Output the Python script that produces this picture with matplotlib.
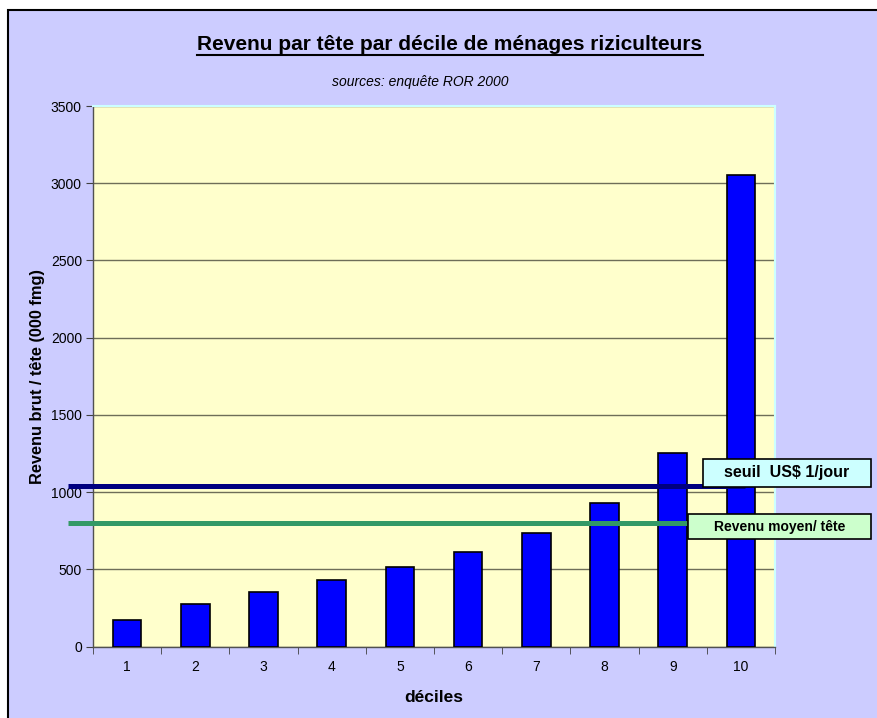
import numpy as np
import matplotlib.pyplot as plt
from matplotlib.patches import Rectangle
from matplotlib.transforms import blended_transform_factory

# revenu brut par tete (000 fmg) par decile
deciles = [1, 2, 3, 4, 5, 6, 7, 8, 9, 10]
revenu = [169, 277, 350, 428, 517, 612, 737, 927, 1252, 3054]
seuil_usd = 1040      # seuil US$ 1/jour
revenu_moyen = 802    # revenu moyen / tete
yticks = [0, 500, 1000, 1500, 2000, 2500, 3000, 3500]

W, H = 877, 718
fig = plt.figure(figsize=(W / 100, H / 100), dpi=100, facecolor='white')
plt.rcParams['font.family'] = ['Liberation Sans', 'DejaVu Sans']

# cadre du graphique (coupe a droite et en bas)
fig.patches.append(Rectangle((8 / W, -0.05), 1.1, (H - 10) / H + 0.05,
                             transform=fig.transFigure, facecolor='#CCCCFF',
                             edgecolor='black', lw=1.5, zorder=-1))

ax = fig.add_axes([93 / W, (H - 646.5) / H, 682 / W, 540.5 / H])
ax.set_facecolor('#FFFFCC')

ax.bar(deciles, revenu, width=0.42, color='#0000FF', edgecolor='black', lw=1.2, zorder=3)

ax.set_xlim(0.5, 10.5)
ax.set_ylim(0, 3500)
ax.set_yticks(yticks)
ax.yaxis.grid(True, color='#6e6e58', lw=1, zorder=1)
ax.set_axisbelow(True)

ax.set_xticks(deciles)
ax.set_xticks(np.arange(0.5, 11, 1), minor=True)
ax.tick_params(axis='x', which='major', length=0, pad=10, labelsize=10)
ax.tick_params(axis='x', which='minor', length=5, direction='out', color='#404040')
ax.tick_params(axis='y', length=5, direction='out', color='#404040', labelsize=10, pad=3)

for s in ['top', 'right']:
    ax.spines[s].set_color('#CCFFFF')
    ax.spines[s].set_linewidth(1.5)
for s in ['left', 'bottom']:
    ax.spines[s].set_color('#505050')
    ax.spines[s].set_linewidth(1)

ax.set_xlabel('déciles', fontsize=12.5, fontweight='bold', labelpad=11)
ax.set_ylabel('Revenu brut / tête (000 fmg)', fontsize=11.8, fontweight='bold', labelpad=4)

# lignes de reference
tr = blended_transform_factory(ax.transAxes, ax.transData)
ax.plot([-0.037, 0.956], [seuil_usd, seuil_usd], color='#000080', lw=3.6,
        transform=tr, clip_on=False, zorder=5, solid_capstyle='butt')
ax.plot([-0.037, 0.871], [revenu_moyen, revenu_moyen], color='#339966', lw=3.6,
        transform=tr, clip_on=False, zorder=5, solid_capstyle='butt')

# etiquettes des lignes
def label_box(x0, y0, x1, y1, txt, fc, fs):
    fig.patches.append(Rectangle((x0 / W, 1 - y1 / H), (x1 - x0) / W, (y1 - y0) / H,
                                 transform=fig.transFigure, facecolor=fc,
                                 edgecolor='black', lw=1.2, zorder=10))
    fig.text((x0 + x1) / 2 / W, 1 - (y0 + y1) / 2 / H, txt, ha='center', va='center',
             fontsize=fs, fontweight='bold', zorder=11)

label_box(703, 459, 871, 487, 'seuil  US$ 1/jour', '#CCFFFF', 11.5)
label_box(688, 514, 871, 539, 'Revenu moyen/ tête', '#CCFFCC', 10)

# titre
t = fig.text(450 / W, 1 - 44 / H, 'Revenu par tête par décile de ménages riziculteurs',
             ha='center', va='center', fontsize=15, fontweight='bold')
fig.canvas.draw()
bb = t.get_window_extent()
fig.add_artist(plt.Line2D([bb.x0 / W, bb.x1 / W], [1 - 55 / H, 1 - 55 / H],
                          color='black', lw=1.5, transform=fig.transFigure))
fig.text(420 / W, 1 - 82 / H, 'sources: enquête ROR 2000', ha='center', va='center',
         fontsize=10, style='italic')

fig.savefig('out.png', dpi=100, facecolor=fig.get_facecolor())
